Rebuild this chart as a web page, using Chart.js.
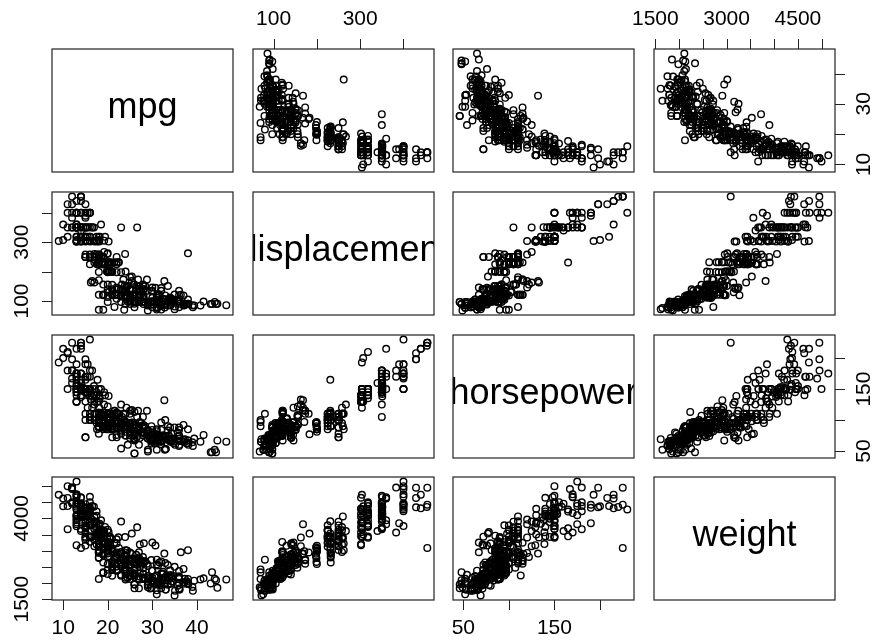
<!DOCTYPE html>
<html lang="en">
<head>
    <meta charset="UTF-8">
    <title>Auto pairs plot</title>
    <style>
        body {
            margin: 0;
            padding: 0;
            background-color: #fff;
        }
        .wrap {
            position: relative;
            width: 875px;
            height: 643px;
        }
        .wrap canvas {
            position: absolute;
            left: 0;
            top: 0;
        }
    </style>
    <script src="https://cdn.jsdelivr.net/npm/chart.js"></script>
</head>
<body>
    <div class="wrap" id="wrap"></div>
    <script>
        // Auto data, one row per car (10 per line so the arrays stay aligned)
        const mpg = [
            18,15,18,16,17,15,14,14,14,15, 15,14,15,14,24,22,18,21,27,26,
            25,24,25,26,21,10,10,11,9,27, 28,25,19,16,17,19,18,14,14,14,
            14,12,13,13,18,22,19,18,23,28, 30,30,31,35,27,26,24,25,23,20,
            21,13,14,15,14,17,11,13,12,13, 19,15,13,13,14,18,22,21,26,22,
            28,23,28,27,13,14,13,14,15,12, 13,13,14,13,12,13,18,16,18,18,
            23,26,11,12,13,12,18,20,21,22, 18,19,21,26,15,16,29,24,20,19,
            15,24,20,11,20,19,15,31,26,32, 25,16,16,18,16,13,14,14,14,29,
            26,26,31,32,28,24,26,24,26,31, 19,18,15,15,16,15,16,14,17,16,
            15,18,21,20,13,29,23,20,23,24, 25,24,18,29,19,23,23,22,25,33,
            28,25,25,26,27,17.5,16,15.5,14.5,22, 22,24,22.5,29,24.5,29,33,20,18,18.5,
            17.5,29.5,32,28,26.5,20,13,19,19,16.5, 16.5,13,13,13,31.5,30,36,25.5,33.5,17.5,
            17,15.5,15,17.5,20.5,19,18.5,16,15.5,15.5, 16,29,24.5,26,25.5,30.5,33.5,30,30.5,22,
            21.5,21.5,43.1,36.1,32.8,39.4,36.1,19.9,19.4,20.2, 19.2,20.5,20.2,25.1,20.5,19.4,20.6,20.8,18.6,18.1,
            19.2,17.7,18.1,17.5,30,27.5,27.2,30.9,21.1,23.2, 23.8,23.9,20.3,17,21.6,16.2,31.5,29.5,21.5,19.8,
            22.3,20.2,20.6,17,17.6,16.5,18.2,16.9,15.5,19.2, 18.5,31.9,34.1,35.7,27.4,25.4,23,27.2,23.9,34.2,
            34.5,31.8,37.3,28.4,28.8,26.8,33.5,41.5,38.1,32.1, 37.2,28,26.4,24.3,19.1,34.3,29.8,31.3,37,32.2,
            46.6,27.9,40.8,44.3,43.4,36.4,30,44.6,33.8,29.8, 32.7,23.7,35,32.4,27.2,26.6,25.8,23.5,30,39.1,
            39,35.1,32.3,37,37.7,34.1,34.7,34.4,29.9,33, 33.7,32.4,32.9,31.6,28.1,30.7,25.4,24.2,22.4,26.6,
            20.2,17.6,28,27,34,31,29,27,24,36, 37,31,38,36,36,36,34,38,32,38,
            25,38,26,22,32,36,27,27,44,32, 28,31
        ];
        const displacement = [
            307,350,318,304,302,429,454,440,455,390, 383,340,400,455,113,198,199,200,97,97,
            110,107,104,121,199,360,307,318,304,97, 140,113,232,225,250,250,232,350,400,351,
            318,383,400,400,258,140,250,250,122,116, 79,88,71,72,97,91,113,97.5,97,140,
            122,350,400,318,351,304,429,350,350,400, 70,304,307,302,318,121,121,120,96,122,
            97,120,98,97,350,304,350,302,318,429, 400,351,318,440,455,360,225,250,232,250,
            198,97,400,400,360,350,232,97,140,108, 70,122,155,98,350,400,68,116,114,121,
            318,121,156,350,198,232,250,79,122,71, 140,250,258,225,302,350,318,302,304,98,
            79,97,76,83,90,90,116,120,108,79, 225,250,250,250,400,350,318,351,231,250,
            258,225,231,262,302,97,140,232,140,134, 90,119,171,90,232,115,120,121,121,91,
            107,116,140,98,101,305,318,304,351,225, 250,200,232,85,98,90,91,225,250,250,
            258,97,85,97,140,130,318,120,156,168, 350,350,302,318,98,111,79,122,85,305,
            260,318,302,250,231,225,250,400,350,400, 351,97,151,97,140,98,98,97,97,146,
            121,80,90,98,78,85,91,260,318,302, 231,200,200,140,225,232,231,200,225,258,
            305,231,302,318,98,134,119,105,134,156, 151,119,131,163,121,163,89,98,231,200,
            140,232,225,305,302,351,318,350,351,267, 360,89,86,98,121,183,350,141,260,105,
            105,85,91,151,173,173,151,98,89,98, 86,151,140,151,225,97,134,120,119,108,
            86,156,85,90,90,121,146,91,97,89, 168,70,122,107,135,151,156,173,135,79,
            86,81,97,85,89,91,105,98,98,105, 107,108,119,120,141,145,168,146,231,350,
            200,225,112,112,112,112,135,151,140,105, 91,91,105,98,120,107,108,91,91,91,
            181,262,156,232,144,135,151,140,97,135, 120,119
        ];
        const horsepower = [
            130,165,150,150,140,198,220,215,225,190, 170,160,150,225,95,95,97,85,88,46,
            87,90,95,113,90,215,200,210,193,88, 90,95,100,105,100,88,100,165,175,153,
            150,180,170,175,110,72,100,88,86,90, 70,76,65,69,60,70,95,80,54,90,
            86,165,175,150,153,150,208,155,160,190, 97,150,130,140,150,112,76,87,69,86,
            92,97,80,88,175,150,145,137,150,198, 150,158,150,215,225,175,105,100,100,88,
            95,46,150,167,170,180,100,88,72,94, 90,85,107,90,145,230,49,75,91,112,
            150,110,122,180,95,100,100,67,80,65, 75,100,110,105,140,150,150,140,150,83,
            67,78,52,61,75,75,75,97,93,67, 95,105,72,72,170,145,150,148,110,105,
            110,95,110,110,129,75,83,100,78,96, 71,97,97,70,90,95,88,98,115,53,
            86,81,92,79,83,140,150,120,152,100, 105,81,90,52,60,70,53,100,78,110,
            95,71,70,75,72,102,150,88,108,120, 180,145,130,150,68,80,58,96,70,145,
            110,145,130,110,105,100,98,180,170,190, 149,78,88,75,89,63,83,67,78,97,
            110,110,48,66,52,70,60,110,140,139, 105,95,85,88,100,90,105,85,110,120,
            145,165,139,140,68,95,97,75,95,105, 85,97,103,125,115,133,71,68,115,85,
            88,90,110,130,129,138,135,155,142,125, 150,71,65,80,80,77,125,71,90,70,
            70,65,69,90,115,115,90,76,60,70, 65,90,88,90,90,78,90,75,92,75,
            65,105,65,48,48,67,67,67,67,62, 132,100,88,72,84,84,92,110,84,58,
            64,60,67,65,62,68,63,65,65,74, 75,75,100,74,80,76,116,120,110,105,
            88,85,88,88,88,85,84,90,92,74, 68,68,63,70,88,75,70,67,67,67,
            110,85,92,112,96,84,90,86,52,84, 79,82
        ];
        const weight = [
            3504,3693,3436,3433,3449,4341,4354,4312,4425,3850, 3563,3609,3761,3086,2372,2833,2774,2587,2130,1835,
            2672,2430,2375,2234,2648,4615,4376,4382,4732,2130, 2264,2228,2634,3439,3329,3302,3288,4209,4464,4154,
            4096,4955,4746,5140,2962,2408,3282,3139,2220,2123, 2074,2065,1773,1613,1834,1955,2278,2126,2254,2408,
            2226,4274,4385,4135,4129,3672,4633,4502,4456,4422, 2330,3892,4098,4294,4077,2933,2511,2979,2189,2395,
            2288,2506,2164,2100,4100,3672,3988,4042,3777,4952, 4464,4363,4237,4735,4951,3821,3121,3278,2945,3021,
            2904,1950,4997,4906,4654,4499,2789,2279,2401,2379, 2124,2310,2472,2265,4082,4278,1867,2158,2582,2868,
            3399,2660,2807,3664,3102,2901,3336,1950,2451,1836, 2542,3781,3632,3613,4141,4699,4457,4638,4257,2219,
            1963,2300,1649,2003,2125,2108,2246,2489,2391,2000, 3264,3459,3432,3158,4668,4440,4498,4657,3907,3897,
            3730,3785,3039,3221,3169,2171,2639,2914,2592,2702, 2223,2545,2984,1937,3211,2694,2957,2945,2671,1795,
            2464,2220,2572,2255,2202,4215,4190,3962,4215,3233, 3353,3012,3085,2035,2164,1937,1795,3651,3574,3645,
            3193,1825,1990,2155,2565,3150,3940,3270,2930,3820, 4380,4055,3870,3755,2045,2155,1825,2300,1945,3880,
            4060,4140,4295,3520,3425,3630,3525,4220,4165,4325, 4335,1940,2740,2265,2755,2051,2075,1985,2190,2815,
            2600,2720,1985,1800,1985,2070,1800,3365,3735,3570, 3535,3155,2965,2720,3430,3210,3380,3070,3620,3410,
            3425,3445,3205,4080,2155,2560,2300,2230,2515,2745, 2855,2405,2830,3140,2795,3410,1990,2135,3245,2990,
            2890,3265,3360,3840,3725,3955,3830,4360,4054,3605, 3940,1925,1975,1915,2670,3530,3900,3190,3420,2200,
            2150,2020,2130,2670,2595,2700,2556,2144,1968,2120, 2019,2678,2870,3003,3381,2188,2711,2542,2434,2265,
            2110,2800,2110,2085,2335,2950,3250,1850,2145,1845, 2910,2420,2500,2290,2490,2635,2620,2725,2385,1755,
            1875,1760,2065,1975,2050,1985,2215,2045,2380,2190, 2210,2350,2615,2635,3230,3160,2900,2930,3415,3725,
            3060,3465,2605,2640,2395,2575,2525,2735,2865,1980, 2025,1970,2125,2125,2160,2205,2245,1965,1965,1995,
            2945,3015,2585,2835,2665,2370,2950,2790,2130,2295, 2625,2720
        ];

        const varNames = ['mpg', 'displacement', 'horsepower', 'weight'];

        // tick positions and the labels R kept on each side
        const mpgTicks = [10, 20, 30, 40];
        const mpgLabelsBottom = [10, 20, 30, 40];
        const mpgLabelsRight = [10, 30];
        const dispTicks = [100, 200, 300, 400];
        const dispLabels = [100, 300];
        const hpTicks = [50, 100, 150, 200];
        const hpLabels = [50, 150];
        const weightTicks = [1500, 2000, 2500, 3000, 3500, 4000, 4500, 5000];
        const weightLabelsTop = [1500, 3000, 4500];
        const weightLabelsLeft = [1500, 4000];

        const columns = [mpg, displacement, horsepower, weight];

        // which outer side gets an axis, keyed by column (top/bottom) or row (left/right)
        const topAxes = { 1: [dispTicks, dispLabels], 3: [weightTicks, weightLabelsTop] };
        const bottomAxes = { 0: [mpgTicks, mpgLabelsBottom], 2: [hpTicks, hpLabels] };
        const leftAxes = { 1: [dispTicks, dispLabels], 3: [weightTicks, weightLabelsLeft] };
        const rightAxes = { 0: [mpgTicks, mpgLabelsRight], 2: [hpTicks, hpLabels] };

        // panel boxes on the page
        const pageW = 875, pageH = 643;
        const colX = [52, 253, 453, 654];
        const rowY = [49, 192, 335, 477];
        const panelW = 181, panelH = 123;

        const tickFont = '21px "Liberation Sans", Arial, sans-serif';
        const nameFont = '36px "Liberation Sans", Arial, sans-serif';

        // R pads each range by 4%
        function paddedRange(arr) {
            const lo = Math.min(...arr), hi = Math.max(...arr);
            const pad = (hi - lo) * 0.04;
            return [lo - pad, hi + pad];
        }
        const ranges = columns.map(paddedRange);

        const pairsPanel = {
            id: 'pairsPanel',
            afterDraw(chart, args, opts) {
                const ctx = chart.ctx;
                const a = chart.chartArea;
                const row = opts.row, col = opts.col;
                const xs = chart.scales.x, ys = chart.scales.y;

                ctx.save();
                ctx.strokeStyle = '#222';
                ctx.fillStyle = '#000';
                ctx.lineWidth = 1.2;

                // diagonal: variable name, clipped to the box
                if (row === col) {
                    ctx.save();
                    ctx.beginPath();
                    ctx.rect(a.left, a.top, a.right - a.left, a.bottom - a.top);
                    ctx.clip();
                    ctx.font = nameFont;
                    ctx.textAlign = 'center';
                    ctx.textBaseline = 'alphabetic';
                    ctx.fillText(varNames[row], (a.left + a.right) / 2, (a.top + a.bottom) / 2 + 7);
                    ctx.restore();
                }

                ctx.strokeRect(a.left, a.top, a.right - a.left, a.bottom - a.top);

                ctx.font = tickFont;
                ctx.lineWidth = 1;
                ctx.textAlign = 'center';
                ctx.textBaseline = 'middle';

                if (row === 0 && topAxes[col]) {
                    const [ticks, labels] = topAxes[col];
                    ticks.forEach(v => {
                        const px = Math.round(xs.getPixelForValue(v)) + 0.5;
                        ctx.beginPath(); ctx.moveTo(px, a.top); ctx.lineTo(px, a.top - 10); ctx.stroke();
                    });
                    labels.forEach(v => ctx.fillText(String(v), xs.getPixelForValue(v), a.top - 30));
                }
                if (row === 3 && bottomAxes[col]) {
                    const [ticks, labels] = bottomAxes[col];
                    ticks.forEach(v => {
                        const px = Math.round(xs.getPixelForValue(v)) + 0.5;
                        ctx.beginPath(); ctx.moveTo(px, a.bottom); ctx.lineTo(px, a.bottom + 10); ctx.stroke();
                    });
                    labels.forEach(v => ctx.fillText(String(v), xs.getPixelForValue(v), a.bottom + 28));
                }
                if (col === 0 && leftAxes[row]) {
                    const [ticks, labels] = leftAxes[row];
                    ticks.forEach(v => {
                        const py = Math.round(ys.getPixelForValue(v)) + 0.5;
                        ctx.beginPath(); ctx.moveTo(a.left, py); ctx.lineTo(a.left - 10, py); ctx.stroke();
                    });
                    labels.forEach(v => {
                        ctx.save();
                        ctx.translate(a.left - 30, ys.getPixelForValue(v));
                        ctx.rotate(-Math.PI / 2);
                        ctx.fillText(String(v), 0, 0);
                        ctx.restore();
                    });
                }
                if (col === 3 && rightAxes[row]) {
                    const [ticks, labels] = rightAxes[row];
                    ticks.forEach(v => {
                        const py = Math.round(ys.getPixelForValue(v)) + 0.5;
                        ctx.beginPath(); ctx.moveTo(a.right, py); ctx.lineTo(a.right + 10, py); ctx.stroke();
                    });
                    labels.forEach(v => {
                        ctx.save();
                        ctx.translate(a.right + 29, ys.getPixelForValue(v));
                        ctx.rotate(-Math.PI / 2);
                        ctx.fillText(String(v), 0, 0);
                        ctx.restore();
                    });
                }
                ctx.restore();
            }
        };
        Chart.register(pairsPanel);

        const wrap = document.getElementById('wrap');

        for (let row = 0; row < 4; row++) {
            for (let col = 0; col < 4; col++) {
                const canvas = document.createElement('canvas');
                canvas.width = pageW;
                canvas.height = pageH;
                wrap.appendChild(canvas);

                // x = column variable, y = row variable
                const points = row === col ? [] :
                    columns[col].map((v, i) => ({ x: v, y: columns[row][i] }));

                new Chart(canvas, {
                    type: 'scatter',
                    data: {
                        datasets: [{
                            data: points,
                            pointStyle: 'circle',
                            pointRadius: 3.3,
                            borderWidth: 1.4,
                            borderColor: '#000',
                            backgroundColor: 'rgba(0,0,0,0)'
                        }]
                    },
                    options: {
                        responsive: false,
                        animation: false,
                        events: [],
                        layout: {
                            padding: {
                                left: colX[col],
                                top: rowY[row],
                                right: pageW - colX[col] - panelW,
                                bottom: pageH - rowY[row] - panelH
                            }
                        },
                        scales: {
                            x: { type: 'linear', display: false, min: ranges[col][0], max: ranges[col][1] },
                            y: { type: 'linear', display: false, min: ranges[row][0], max: ranges[row][1] }
                        },
                        plugins: {
                            legend: { display: false },
                            tooltip: { enabled: false },
                            pairsPanel: { row: row, col: col }
                        }
                    }
                });
            }
        }
    </script>
</body>
</html>
